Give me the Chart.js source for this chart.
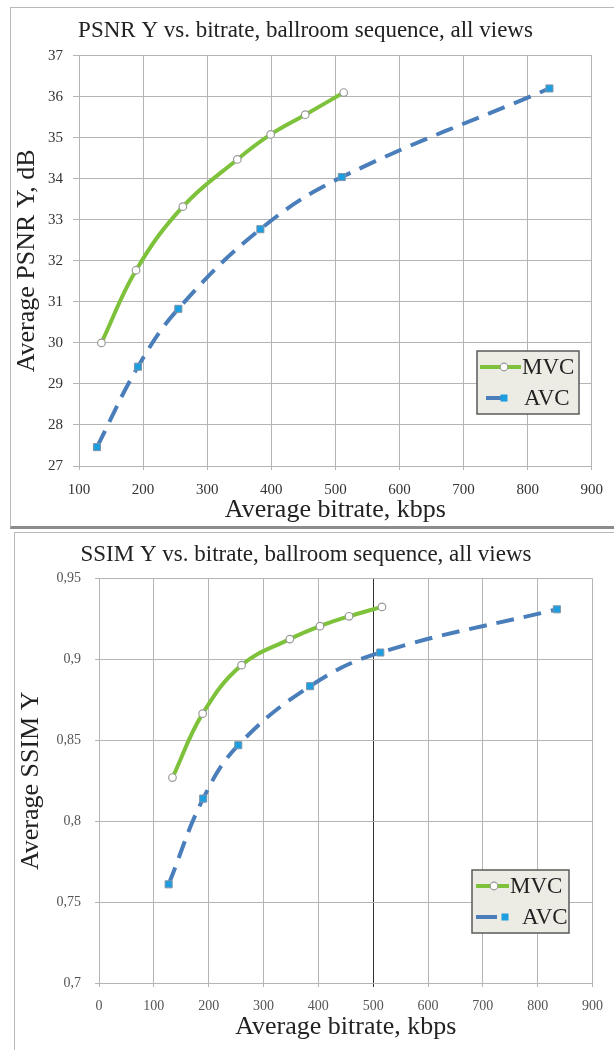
<!DOCTYPE html>
<html>
<head>
<meta charset="utf-8">
<script src="https://cdn.jsdelivr.net/npm/chart.js@4.4.0/dist/chart.umd.min.js"></script>
<style>
  html, body { margin: 0; padding: 0; background: #fff; }
  body { width: 614px; height: 1050px; position: relative; overflow: hidden; }
  .frame { position: absolute; background: #fff; }
  #frameTop { left: 10px; top: 7px; width: 620px; height: 518px; border-left: 1px solid #b8b8b8; border-top: 1px solid #b8b8b8; border-bottom: 3px solid #8c8c8c; }
  #frameBottom { left: 14px; top: 532px; width: 620px; height: 530px; border-left: 1px solid #b8b8b8; border-top: 1px solid #b8b8b8; }
  canvas { position: absolute; }
  #psnrChart { left: 11px; top: 8px; }
  #ssimChart { left: 15px; top: 533px; }
</style>
</head>
<body>
<div class="frame" id="frameTop"></div>
<div class="frame" id="frameBottom"></div>
<canvas id="psnrChart" width="603" height="518"></canvas>
<canvas id="ssimChart" width="599" height="517"></canvas>
<script>
// values
const seriesNames = ['MVC', 'AVC'];

const psnrMvcRate = [135, 189, 262, 347, 399, 453, 513];
const psnrMvc = [30.0, 31.77, 33.32, 34.47, 35.08, 35.56, 36.1];
const psnrAvcRate = [128, 192, 255, 383, 510, 834];
const psnrAvc = [27.46, 29.42, 30.83, 32.77, 34.04, 36.2];

const ssimMvcRate = [134, 189, 260, 348, 403, 456, 516];
const ssimMvc = [0.827, 0.8665, 0.8965, 0.9126, 0.9206, 0.9267, 0.9325];
const ssimAvcRate = [127, 190, 254, 385, 513, 835];
const ssimAvc = [0.761, 0.814, 0.847, 0.8835, 0.9043, 0.931];

const psnrRateTicks = [100, 200, 300, 400, 500, 600, 700, 800, 900];
const psnrTicks = [27, 28, 29, 30, 31, 32, 33, 34, 35, 36, 37];
const ssimRateTicks = [0, 100, 200, 300, 400, 500, 600, 700, 800, 900];
const ssimTicks = [0.7, 0.75, 0.8, 0.85, 0.9, 0.95];

const serif = "'Liberation Serif', 'Times New Roman', serif";
const green = '#7dc23a';
const blue = '#4a7ebb';
const gridGray = '#b4b4b4';

function toPoints(xs, ys) {
  return xs.map((x, i) => ({ x: x, y: ys[i] }));
}

// legend box drawn inside the plot, Excel style
const boxLegend = {
  id: 'boxLegend',
  afterDraw(chart, args, opts) {
    if (!opts || !opts.box) return;
    const ctx = chart.ctx;
    const b = opts.box;
    ctx.save();
    ctx.fillStyle = '#ecebe4';
    ctx.fillRect(b[0], b[1], b[2], b[3]);
    ctx.strokeStyle = '#5a5a5a';
    ctx.lineWidth = 1.5;
    ctx.strokeRect(b[0], b[1], b[2], b[3]);

    chart.data.datasets.forEach((ds, i) => {
      const it = opts.items[i];
      ctx.setLineDash([]);
      ctx.strokeStyle = ds.borderColor;
      ctx.lineWidth = 4;
      ctx.beginPath();
      ctx.moveTo(it.line[0], it.y);
      ctx.lineTo(it.line[1], it.y);
      ctx.stroke();

      ctx.fillStyle = ds.pointBackgroundColor;
      ctx.strokeStyle = ds.pointBorderColor;
      ctx.lineWidth = 1.2;
      if (ds.pointStyle === 'rect') {
        ctx.fillRect(it.mark - 3.5, it.y - 3.5, 7, 7);
      } else {
        ctx.beginPath();
        ctx.arc(it.mark, it.y, 3.8, 0, Math.PI * 2);
        ctx.fill();
        ctx.stroke();
      }

      ctx.fillStyle = '#222';
      ctx.font = '23px ' + serif;
      ctx.textBaseline = 'middle';
      ctx.fillText(ds.label, it.text, it.y + 1);
    });
    ctx.restore();
  }
};

function makeDatasets(mvcX, mvcY, avcX, avcY) {
  return [
    {
      label: seriesNames[0],
      data: toPoints(mvcX, mvcY),
      showLine: true,
      borderColor: green,
      borderWidth: 4,
      tension: 0.4,
      pointStyle: 'circle',
      pointRadius: 3.8,
      pointBackgroundColor: '#ffffff',
      pointBorderColor: '#9a9a9a',
      pointBorderWidth: 1.2
    },
    {
      label: seriesNames[1],
      data: toPoints(avcX, avcY),
      showLine: true,
      borderColor: blue,
      borderWidth: 4,
      borderDash: [18, 10],
      tension: 0.4,
      pointStyle: 'rect',
      pointRadius: 5,
      pointBackgroundColor: '#1c9ee0',
      pointBorderColor: '#7f94a8',
      pointBorderWidth: 1
    }
  ];
}

function makeOptions(o) {
  return {
    responsive: false,
    animation: false,
    events: [],
    layout: { padding: { right: o.padRight, left: 0, top: 0, bottom: 0 } },
    plugins: {
      legend: { display: false },
      tooltip: { enabled: false },
      title: {
        display: true,
        text: o.title,
        color: '#222',
        font: { family: serif, size: 23, weight: 'normal' },
        padding: { top: o.titleTop, bottom: o.titleBottom }
      },
      boxLegend: o.legend
    },
    scales: {
      x: {
        type: 'linear',
        min: o.xTicks[0],
        max: o.xTicks[o.xTicks.length - 1],
        afterBuildTicks: (s) => { s.ticks = o.xTicks.map((v) => ({ value: v })); },
        afterFit: (s) => { s.height = o.xHeight; },
        grid: {
          color: (c) => (o.darkLine !== undefined && c.tick && c.tick.value === o.darkLine ? '#333' : gridGray),
          tickLength: 4
        },
        border: { color: gridGray },
        ticks: {
          color: o.tickColor,
          font: { family: serif, size: o.tickSize },
          padding: o.xTickPad,
          maxRotation: 0
        },
        title: {
          display: true,
          text: 'Average bitrate, kbps',
          color: '#222',
          font: { family: serif, size: 26 },
          padding: { top: 0, bottom: o.xTitlePad }
        }
      },
      y: {
        type: 'linear',
        min: o.yTicks[0],
        max: o.yTicks[o.yTicks.length - 1],
        afterBuildTicks: (s) => { s.ticks = o.yTicks.map((v) => ({ value: v })); },
        afterFit: (s) => { s.width = o.yWidth; },
        grid: { color: gridGray, tickLength: o.yTickLen },
        border: { color: gridGray },
        ticks: {
          color: o.tickColor,
          font: { family: serif, size: o.tickSize },
          padding: o.yTickPad,
          callback: (v) => String(v).replace('.', ',')
        },
        title: {
          display: true,
          text: o.yTitle,
          color: '#222',
          font: { family: serif, size: 26 },
          padding: { top: o.yTitlePad, bottom: 0 }
        }
      }
    }
  };
}

new Chart(document.getElementById('psnrChart'), {
  type: 'scatter',
  data: { datasets: makeDatasets(psnrMvcRate, psnrMvc, psnrAvcRate, psnrAvc) },
  options: makeOptions({
    title: 'PSNR Y vs. bitrate, ballroom sequence, all views',
    titleTop: 9, titleBottom: 11,
    padRight: 14,
    xTicks: psnrRateTicks, yTicks: psnrTicks,
    xHeight: 60, yWidth: 68,
    tickColor: '#333', tickSize: 15,
    xTickPad: 11, yTickPad: 10, yTickLen: 6,
    xTitlePad: 0, yTitlePad: 1,
    yTitle: 'Average PSNR Y, dB',
    legend: {
      box: [466, 343, 102, 63],
      items: [
        { y: 359, line: [469, 510], mark: 493, text: 511 },
        { y: 390, line: [475, 492], mark: 493, text: 513 }
      ]
    }
  }),
  plugins: [boxLegend]
});

new Chart(document.getElementById('ssimChart'), {
  type: 'scatter',
  data: { datasets: makeDatasets(ssimMvcRate, ssimMvc, ssimAvcRate, ssimAvc) },
  options: makeOptions({
    title: 'SSIM Y vs. bitrate, ballroom sequence, all views',
    titleTop: 8, titleBottom: 10,
    padRight: 17,
    xTicks: ssimRateTicks, yTicks: ssimTicks,
    xHeight: 67, yWidth: 84,
    tickColor: '#555', tickSize: 14,
    xTickPad: 11, yTickPad: 14, yTickLen: 4,
    xTitlePad: 7, yTitlePad: 1,
    yTitle: 'Average SSIM Y',
    darkLine: 500,
    legend: {
      box: [457, 337, 97, 63],
      items: [
        { y: 353, line: [461, 494], mark: 479, text: 495 },
        { y: 384, line: [461, 482], mark: 490, text: 507 }
      ]
    }
  }),
  plugins: [boxLegend]
});
</script>
</body>
</html>
